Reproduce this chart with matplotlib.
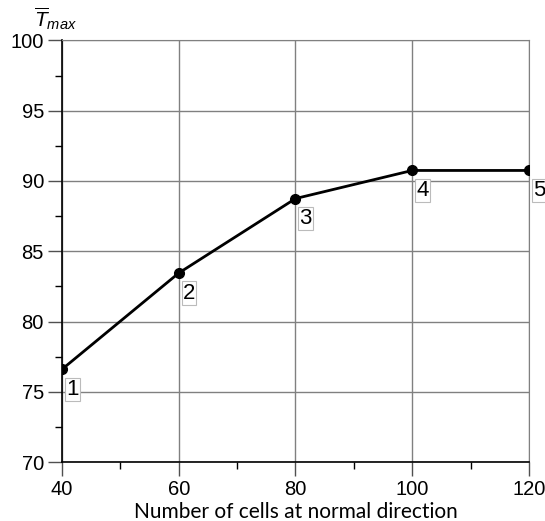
import numpy as np
import matplotlib.pyplot as plt

# mesh study: max temperature vs number of cells in normal direction
cells = [40, 60, 80, 100, 120]
tmax = [76.6, 83.45, 88.75, 90.75, 90.75]
labels = ['1', '2', '3', '4', '5']

plt.rcParams['font.family'] = ['Liberation Sans', 'DejaVu Sans']
plt.rcParams['mathtext.fontset'] = 'custom'
plt.rcParams['mathtext.it'] = 'Liberation Sans:italic'
plt.rcParams['mathtext.rm'] = 'Liberation Sans'

fig = plt.figure(figsize=(5.45, 5.21), dpi=100)
ax = fig.add_axes([0.1138, 0.1132, 0.8568, 0.8091])

ax.plot(cells, tmax, color='black', lw=2, marker='o', ms=7, zorder=3)

for x, y, s in zip(cells, tmax, labels):
    ax.annotate(s, (x, y), xytext=(4, -20), textcoords='offset pixels',
                fontsize=16, ha='left', va='center',
                bbox=dict(boxstyle='square,pad=0.05', fc='white', ec='#bbbbbb', lw=0.8),
                zorder=4, annotation_clip=False)

ax.set_xlim(40, 120)
ax.set_ylim(70, 100)
ax.set_xticks([40, 60, 80, 100, 120])
ax.set_xticks([50, 70, 90, 110], minor=True)
ax.set_yticks(np.arange(70, 101, 5))
ax.set_yticks(np.arange(72.5, 100, 5), minor=True)
ax.grid(True, which='major', color='#808080', lw=1)
ax.tick_params(which='major', length=10, width=1, labelsize=14.5, pad=3, color='#505050')
ax.tick_params(which='minor', length=5, width=1, color='black')

for side in ['top', 'right']:
    ax.spines[side].set_color('#808080')
for side in ['left', 'bottom']:
    ax.spines[side].set_color('black')
    ax.spines[side].set_linewidth(1.2)

ax.set_xlabel('Number of cells at normal direction', fontsize=15, family='Lato', labelpad=2)
fig.text(0.062, 0.948, r'$\overline{T}_{max}$', fontsize=15)

fig.savefig('out.png', dpi=100)
